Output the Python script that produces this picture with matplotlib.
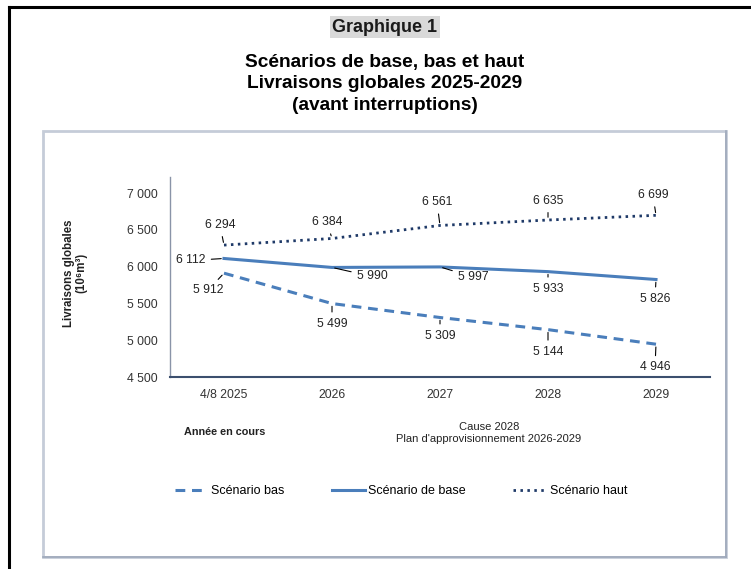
import matplotlib
matplotlib.use("Agg")
import matplotlib.pyplot as plt
from matplotlib.lines import Line2D
from matplotlib.patches import Rectangle

plt.rcParams['font.family'] = ['Liberation Sans', 'DejaVu Sans']

# Data
categories = ["4/8 2025", "2026", "2027", "2028", "2029"]
scenario_bas = [5912, 5499, 5309, 5144, 4946]
scenario_base = [6112, 5990, 5997, 5933, 5826]
scenario_haut = [6294, 6384, 6561, 6635, 6699]
y_ticks = [4500, 5000, 5500, 6000, 6500, 7000]

# Label offsets (pixels) for each series' data labels
off_bas = [(-16, -17), (0, -20), (0, -18), (0, -22), (-1, -23)]
off_base = [(-33, -2), (40, -9), (33, -10), (0, -17), (-1, -19)]
off_haut = [(-4, 20), (-5, 16), (-3, 23), (0, 19), (-3, 20)]

W, H = 751, 569
fig = plt.figure(figsize=(W / 100, H / 100), dpi=100)
fig.patch.set_facecolor('white')

def fx(px):
    return px / W

def fy(py):
    return 1 - py / H

# Page frame (left and top rules)
fig.add_artist(Line2D([fx(8.5), fx(8.5)], [fy(6.5), fy(569)], color='black', lw=2.2))
fig.add_artist(Line2D([fx(8.5), fx(751)], [fy(6.5), fy(6.5)], color='black', lw=2.2))

# Chart area border
fig.add_artist(Rectangle((fx(43), fy(557)), fx(726) - fx(43), fy(131) - fy(557),
                         fill=False, edgecolor='#c5ccd8', lw=2.0))
fig.add_artist(Line2D([fx(726), fx(726)], [fy(131), fy(557)], color='#9ea8ba', lw=1.2))
fig.add_artist(Line2D([fx(43), fx(726)], [fy(557), fy(557)], color='#9ea8ba', lw=1.2))

# Titles
fig.text(fx(385), fy(27), "Graphique 1", ha='center', va='center', fontsize=13,
         fontweight='bold', color='#1a1a1a',
         bbox=dict(boxstyle='square,pad=0.15', facecolor='#d9d9d9', edgecolor='none'))
for txt, y in [("Scénarios de base, bas et haut", 62),
               ("Livraisons globales 2025-2029", 84),
               ("(avant interruptions)", 106)]:
    fig.text(fx(385), fy(y), txt, ha='center', va='center', fontsize=13.8,
             fontweight='bold', color='black')

# Plot area
ax = fig.add_axes([fx(170), fy(377), fx(710) - fx(170), fy(177) - fy(377)])
x = list(range(len(categories)))

blue = '#4a7ebb'
navy = '#1f3a68'
ax.plot(x, scenario_bas, color=blue, lw=2.2, dashes=(3.2, 2.2), label='Scénario bas')
ax.plot(x, scenario_base, color=blue, lw=2.2, label='Scénario de base')
ax.plot(x, scenario_haut, color=navy, lw=2.0, dashes=(0.9, 1.6), label='Scénario haut')

ax.set_xlim(-0.5, len(categories) - 0.5)
ax.set_ylim(4500, 7220)
ax.set_yticks(y_ticks)
ax.set_yticklabels([f"{v:,}".replace(",", " ") for v in y_ticks])
ax.set_xticks(x)
ax.set_xticklabels(categories)
ax.tick_params(axis='both', length=0, labelsize=8.8, colors='#333333')
ax.tick_params(axis='y', pad=9)
ax.tick_params(axis='x', pad=9)
for s in ['top', 'right']:
    ax.spines[s].set_visible(False)
ax.spines['left'].set_color('#8a94a8')
ax.spines['left'].set_linewidth(1.0)
ax.spines['bottom'].set_color('#3c4f6e')
ax.spines['bottom'].set_linewidth(1.5)

def fmt(v):
    return f"{v:,}".replace(",", " ")

for series, offs in [(scenario_bas, off_bas), (scenario_base, off_base), (scenario_haut, off_haut)]:
    for xi, v, (dx, dy) in zip(x, series, offs):
        ax.annotate(fmt(v), xy=(xi, v), xytext=(dx, dy), textcoords='offset pixels',
                    ha='center', va='center', fontsize=8.8, color='#222222',
                    arrowprops=dict(arrowstyle='-', color='black', lw=0.8,
                                    shrinkA=2, shrinkB=2))

# Axis title
fig.text(fx(75), fy(273), "Livraisons globales\n(10⁶m³)", rotation=90, ha='center',
         va='center', fontsize=8.3, fontweight='bold', color='#222222', linespacing=1.1)

# Category notes
fig.text(fx(225), fy(432), "Année en cours", ha='center', va='center', fontsize=7.8,
         fontweight='bold', color='#222222')
fig.text(fx(489), fy(433), "Cause 2028\nPlan d'approvisionnement 2026-2029", ha='center',
         va='center', fontsize=8.0, color='#222222', linespacing=1.25)

# Legend
handles, labels = ax.get_legend_handles_labels()
fig.legend(handles, labels, loc='center', bbox_to_anchor=(fx(401), fy(491)), ncol=3,
           frameon=False, fontsize=9, handlelength=2.6, handletextpad=0.3,
           columnspacing=3.8)

fig.savefig("out.png", dpi=100, facecolor='white')
